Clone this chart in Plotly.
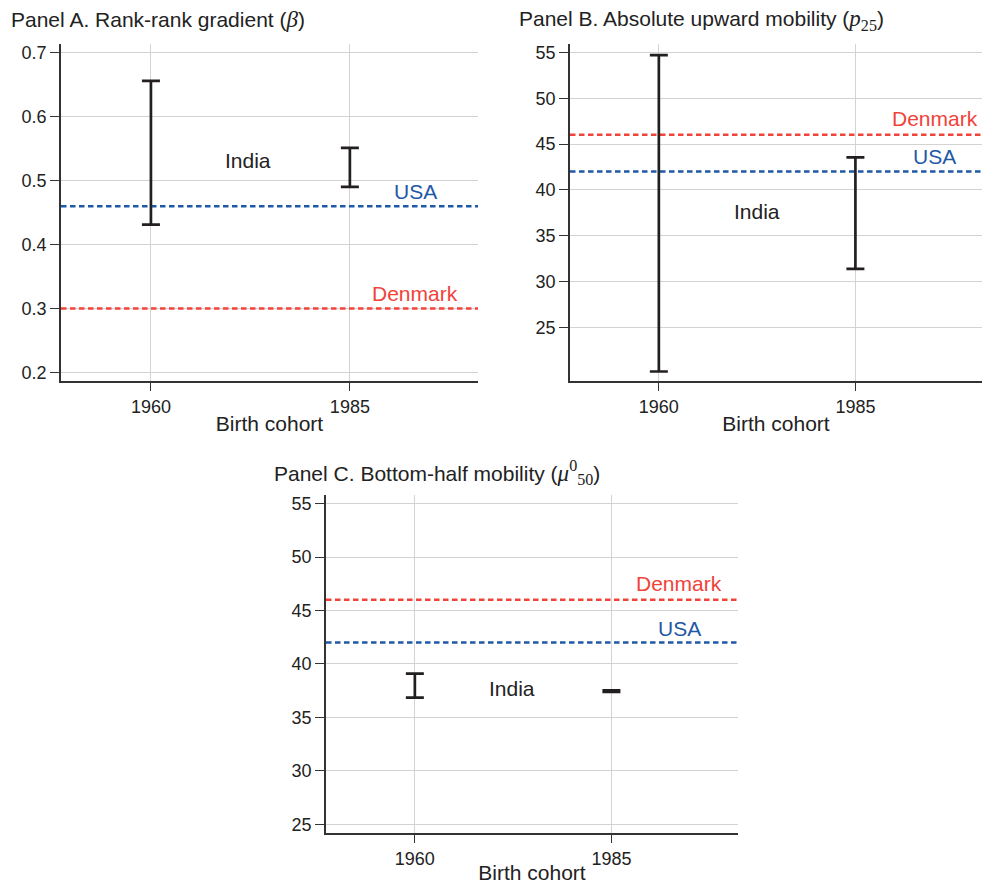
import plotly.graph_objects as go

# ---------------- data ----------------
cohorts = [1960, 1985]
cohort_labels = ["1960", "1985"]

# Panel A: rank-rank gradient (beta), India confidence ranges
rr_lower = [0.431, 0.490]
rr_upper = [0.656, 0.551]
rr_usa = 0.46
rr_denmark = 0.30
rr_ticks = [0.2, 0.3, 0.4, 0.5, 0.6, 0.7]

# Panel B: absolute upward mobility (p25)
p25_lower = [20.2, 31.4]
p25_upper = [54.7, 43.55]
p25_usa = 42
p25_denmark = 46
p25_ticks = [25, 30, 35, 40, 45, 50, 55]

# Panel C: bottom-half mobility (mu^0_50)
mu_lower = [36.85, 37.38]
mu_upper = [39.1, 37.53]
mu_usa = 42
mu_denmark = 46
mu_ticks = [25, 30, 35, 40, 45, 50, 55]

# ---------------- styling ----------------
FONT = "Liberation Sans, Arial, sans-serif"
SERIF = "Liberation Serif"
BAR = "#231f20"
RED = "#f0433a"
BLUE = "#1f58a6"
GRID = "#d3d3d3"
AXIS = "#333333"
W, H = 982, 884
XRANGE = [1948.7, 2001.1]

fig = go.Figure()

panels = [
    dict(lo=rr_lower, hi=rr_upper, usa=rr_usa, den=rr_denmark, ticks=rr_ticks,
         yr=[0.186, 0.714], xd=[61 / W, 478 / W], yd=[1 - 383 / H, 1 - 43 / H],
         india=(1972.2, 0.531), usa_lbl=(1993.2, 0.483), den_lbl=(1993.2, 0.323),
         fmt=".1f"),
    dict(lo=p25_lower, hi=p25_upper, usa=p25_usa, den=p25_denmark, ticks=p25_ticks,
         yr=[19.12, 55.94], xd=[570 / W, 1.0], yd=[1 - 383 / H, 1 - 43 / H],
         india=(1972.5, 37.6), usa_lbl=(1995.1, 43.6), den_lbl=(1995.1, 47.75),
         fmt="d"),
    dict(lo=mu_lower, hi=mu_upper, usa=mu_usa, den=mu_denmark, ticks=mu_ticks,
         yr=[24.16, 55.84], xd=[326 / W, 738 / W], yd=[1 - 838 / H, 1 - 497 / H],
         india=(1972.3, 37.75), usa_lbl=(1993.6, 43.35), den_lbl=(1993.6, 47.5),
         fmt="d"),
]

annotations = []
for i, p in enumerate(panels):
    n = "" if i == 0 else str(i + 1)
    xa, ya = "x" + n, "y" + n
    # benchmark lines (drawn first so the India ranges sit on top)
    for val, col in [(p["den"], RED), (p["usa"], BLUE)]:
        fig.add_trace(go.Scatter(
            x=XRANGE, y=[val, val], xaxis=xa, yaxis=ya, mode="lines",
            line=dict(color=col, width=2.5, dash="5.5px,3.5px"),
            showlegend=False, hoverinfo="skip", cliponaxis=False))
    mids = [(a + b) / 2 for a, b in zip(p["lo"], p["hi"])]
    fig.add_trace(go.Scatter(
        x=cohorts, y=mids, xaxis=xa, yaxis=ya, mode="markers",
        marker=dict(size=1, color="rgba(0,0,0,0)"),
        error_y=dict(type="data", symmetric=False,
                     array=[h - m for h, m in zip(p["hi"], mids)],
                     arrayminus=[m - l for m, l in zip(mids, p["lo"])],
                     color=BAR, thickness=2.7, width=9),
        showlegend=False, hoverinfo="skip"))
    axis_x = dict(domain=p["xd"], anchor=ya, range=XRANGE,
                  tickvals=cohorts, ticktext=cohort_labels,
                  showgrid=True, gridcolor=GRID, gridwidth=1,
                  showline=True, linecolor=AXIS, linewidth=1.5,
                  ticks="outside", ticklen=8, tickcolor=AXIS, tickwidth=1,
                  tickfont=dict(size=18, color="#222", family=FONT),
                  zeroline=False, fixedrange=True,
                  title=dict(text="Birth cohort", standoff=1,
                             font=dict(size=21, color="#222", family=FONT)))
    axis_y = dict(domain=p["yd"], anchor=xa, range=p["yr"],
                  tickvals=p["ticks"], tickformat=p["fmt"],
                  showgrid=True, gridcolor=GRID, gridwidth=1,
                  showline=True, linecolor=AXIS, linewidth=1.5,
                  ticks="outside", ticklen=9, tickcolor=AXIS, tickwidth=1,
                  tickfont=dict(size=18, color="#222", family=FONT),
                  zeroline=False, fixedrange=True)
    fig.layout["xaxis" + n] = axis_x
    fig.layout["yaxis" + n] = axis_y
    for (tx, ty), txt, col in [(p["india"], "India", "#222"),
                               (p["usa_lbl"], "USA", BLUE),
                               (p["den_lbl"], "Denmark", RED)]:
        annotations.append(dict(x=tx, y=ty, xref=xa, yref=ya, text=txt,
                                showarrow=False, xanchor="center", yanchor="middle",
                                font=dict(size=21, color=col, family=FONT)))

titles = [
    ("Panel A. Rank-rank gradient (<span style='font-family:%s;font-size:23px'><i>β</i></span>)" % SERIF, 9, 19),
    ("Panel B. Absolute upward mobility (<span style='font-family:%s;font-size:23px'><i>p</i><sub>25</sub></span>)" % SERIF, 517, 19),
    ("Panel C. Bottom-half mobility (<span style='font-family:%s;font-size:23px'><i>μ</i><sup>0</sup><sub>50</sub></span>)" % SERIF, 272, 475),
]
for txt, px, py in titles:
    annotations.append(dict(x=px / W, y=1 - py / H, xref="paper", yref="paper",
                            text=txt, showarrow=False, xanchor="left", yanchor="middle",
                            font=dict(size=21, color="#222", family=FONT)))

fig.update_layout(width=W, height=H, margin=dict(l=0, r=0, t=0, b=0),
                  paper_bgcolor="white", plot_bgcolor="white",
                  font=dict(family=FONT, color="#222"),
                  annotations=annotations, showlegend=False)

fig.write_html("out.html", config={"displayModeBar": False})
